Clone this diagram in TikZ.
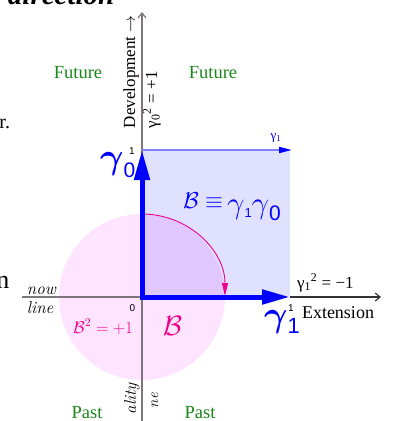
\RequirePackage{fix-cm}
\documentclass[tikz,border=0pt]{standalone}
\usepackage{bm}
\usepackage{fontspec}
\newfontfamily\tnr{Liberation Serif}
\newfontfamily\gsans{Liberation Sans}
\usetikzlibrary{arrows.meta}
\definecolor{futgreen}{RGB}{25,135,25}
\definecolor{axisgray}{RGB}{125,118,125}
\definecolor{axisdark}{RGB}{50,50,50}
\definecolor{pinkfill}{RGB}{255,228,255}
\definecolor{edgeblue}{RGB}{128,128,255}
\newcommand\myfs[1]{\fontsize{#1}{#1}\selectfont}
\tikzset{
  lbl/.style={inner sep=0pt, outer sep=0pt},
  region/.style={lbl, text=futgreen, font=\tnr\myfs{18.5}, anchor=base},
  axtext/.style={lbl, font=\tnr\myfs{17}},
  tick/.style={lbl, font=\gsans\myfs{10}},
  frag/.style={lbl, font=\tnr\myfs{20}},
}
\begin{document}
\begin{tikzpicture}[x=1pt,y=-1pt]
\useasboundingbox (0,0) rectangle (396,421);
\clip (0,0) rectangle (396,421);
\coordinate (O) at (142,297);
\coordinate (E0) at (142,150);
\coordinate (E1) at (290,297);
\coordinate (C) at (290,150);
\coordinate (Ctip) at (292,150);
\coordinate (Vbot) at (142,430);
\coordinate (Vtop) at (142,12);
\coordinate (Hleft) at (22,297);
\coordinate (Hright) at (381,297);
\coordinate (Atop) at (142,214);
\coordinate (Aend) at (225,296);

% regions
\fill[pinkfill] (O) circle[radius=83];
\fill[blue, fill opacity=0.12] (O) rectangle (C);

% axes
\draw[axisgray, line width=1.2pt, -{Straight Barb[length=5pt,width=8pt]}] (Vbot) -- (Vtop);
\draw[axisgray, line width=1.2pt] (Hleft) -- (O);
\draw[axisdark, line width=1.1pt, -{Straight Barb[length=5pt,width=8pt]}] (E1) -- (Hright);

% top edge arrow
\draw[edgeblue, line width=1.8pt, -{Triangle[length=13pt,width=6pt,color=blue]}] (E0) -- (Ctip);

% rotation arc
\draw[magenta, line width=0.9pt, -{Triangle[length=13pt,width=6pt]}] (Atop) .. controls (187.8,214) and (225,250) .. (Aend);

% basis vectors
\draw[blue, line width=5pt, line join=miter, {Triangle[length=30pt,width=15pt]}-{Triangle[length=28pt,width=14pt]}] (E0) -- (O) -- (E1);

% labels
\node[region] (futL) at (78,78) {Future};
\node[region] (futR) at (213,78) {Future};
\node[region] (pastL) at (87,418) {Past};
\node[region] (pastR) at (200,418) {Past};

\node[axtext, rotate=90, anchor=base west] (dev) at (135,128) {Development $\rightarrow$};
\node[axtext, rotate=90, anchor=base west] (g0sq) at (157,128) {γ\textsubscript{0}\textsuperscript{2} = +1};
\node[axtext, anchor=base west] (g1sq) at (297,288) {γ\textsubscript{1}\textsuperscript{2} = −1};
\node[lbl, font=\tnr\myfs{18}, anchor=base west] (ext) at (302,318) {Extension};

\node[lbl, font=\itshape\myfs{17}, anchor=base west] (now) at (27,294) {now};
\node[lbl, font=\itshape\myfs{17}, anchor=base west] (linetxt) at (27,313) {line};

\node[tick] (zero) at (132.5,308.5) {0};
\node[tick] (oneA) at (132,151) {1};
\node[tick] (oneB) at (291,308.5) {1};

\node[lbl, text=magenta, font=\myfs{17}, anchor=base east] (bsq) at (133,333) {$\mathcal{B}^2=+1$};
\node[lbl, text=magenta, font=\myfs{28}, anchor=base] (bbig) at (172.5,335) {$\mathcal{B}$};

\node[lbl, text=blue, anchor=base west] (bdef) at (183,208) {{\myfs{23}$\mathcal{B}\equiv$}\hspace{4pt}{\myfs{31}\raisebox{-5pt}{$\gamma$}\raisebox{-9pt}{\gsans\myfs{13}1}\raisebox{-5pt}{$\gamma$}\raisebox{-12pt}{\gsans\myfs{21}0}}};

\node[lbl, text=blue, anchor=base west] (g0) at (100,168) {\myfs{36}$\bm{\gamma}$\raisebox{-9pt}{\gsans\myfs{21}0}};
\node[lbl, text=blue, anchor=base west] (g1) at (264,326) {\myfs{36}$\bm{\gamma}$\raisebox{-7pt}{\gsans\myfs{22}1}};
\node[lbl, text=blue, font=\tnr\myfs{13}] (g1s) at (276,138) {γ\textsubscript{1}};

% clipped fragments at the edges
\node[lbl, font=\tnr\bfseries\itshape\myfs{29}, anchor=base west] (fragA) at (8,4) {direction};
\node[frag, anchor=base east] (fragB) at (10,128) {r.};
\node[lbl, font=\tnr\myfs{26}, anchor=base east] (fragC) at (9.5,288) {n};
\node[lbl, font=\itshape\myfs{17}, rotate=90, anchor=base east] (fragD) at (136,383) {ality};
\node[lbl, font=\itshape\myfs{15}, rotate=90, anchor=base east] (fragE) at (158,393) {ne};
\end{tikzpicture}
\end{document}
